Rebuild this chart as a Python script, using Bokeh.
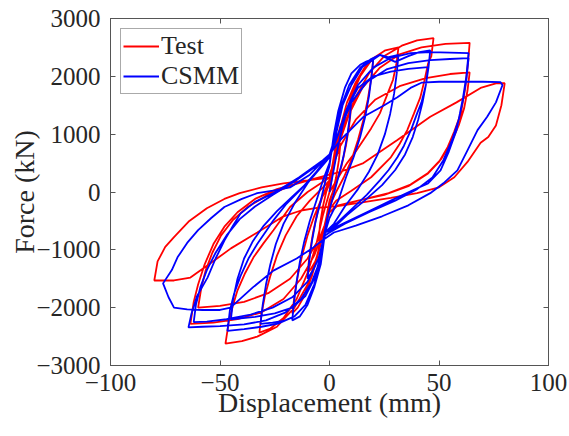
from bokeh.plotting import figure
from bokeh.models import LinearAxis, FixedTicker, Legend, LegendItem, Range1d
from bokeh.embed import file_html
from bokeh.resources import INLINE

# ---------------- data ----------------
x_ticks = [-100, -50, 0, 50, 100]
y_ticks = [-3000, -2000, -1000, 0, 1000, 2000, 3000]

# Test (red) hysteresis: displacement (mm) / force (kN), cycle by cycle
test_disp = [
    # ~5 mm
    0, 1.5, 3, 5, 4.3, 3, 1.5, 0, -1.5, -3, -5, -4.3, -3, -1.5, 0,
    # ~10 mm
    1.5, 3, 5, 7.5, 10, 9, 7.5, 5.5, 3, 0, -2, -4, -6.5, -8.5, -10, -9, -7.5, -5.5, -3, 0,
    # ~20 mm
    2, 4.5, 8, 12, 16, 20, 19, 17.5, 15.5, 13, 10, 6.5, 3, 0, -2.5, -5, -8, -11.5, -14.5, -17,
    -16, -14.5, -12.5, -10, -7, -3.5, 0,
    # ~32 mm
    2.5, 5.5, 9.5, 14, 19.5, 25.5, 31.5, 30.5, 29, 26, 23, 19, 15.5, 12, 8, 4, 0,
    -3, -6, -10, -15, -21, -27, -32, -31, -29.5, -27, -24, -20, -15, -9, -3, 0,
    # ~47 mm
    3, 7, 12, 18, 25, 33, 40, 47.5, 46.5, 45, 43.5, 41.5, 38.5, 35.5, 32, 28, 19, 10, 3, 0,
    -3, -6, -10, -16, -24, -33, -40, -47.5, -46, -44, -42, -38.5, -34.7, -30, -25.6, -18, -10, 0,
    # ~64 mm
    4, 9, 15, 23, 32, 42, 53, 64, 63.3, 62, 60, 57, 54, 50, 45, 36, 25, 13, 3, 0,
    -3, -7, -13, -21, -31, -42, -53, -63.5, -62, -60, -57, -53, -48, -42, -34, -24, -12, 0,
    # repeat ~64 mm
    5, 12, 21, 32, 44, 55, 64, 63, 61.5, 59, 55.5, 51, 45, 37, 27, 15, 4, 0,
    -4, -10, -18, -28, -39, -50, -60, -58.5, -56.5, -53.5, -49.5, -44, -37, -28, -16, 0,
    # ~80 mm
    5, 15.5, 31, 46, 58, 69, 76, 80, 78.5, 76, 72.5, 69, 63, 57, 50, 40, 28, 15, 3,
    -5, -13, -21, -33, -45, -55, -63.5, -71, -80, -78.5, -75, -71, -64, -56, -48, -41, -31, -21, -10, 0,
]
test_force = [
    0, 350, 650, 850, 550, 250, 0, -200, -450, -700, -850, -550, -250, 0, 150,
    500, 850, 1150, 1350, 1500, 1150, 800, 450, 150, -150, -550, -900, -1200, -1330, -1400, -1050, -700, -350, -50, 200,
    600, 1050, 1550, 1900, 2150, 2300, 1950, 1600, 1250, 900, 550, 250, 0, -250, -650, -1050, -1450, -1800, -2000, -2100,
    -1800, -1450, -1100, -750, -420, -100, 150,
    600, 1100, 1600, 2000, 2300, 2450, 2500, 2200, 1940, 1650, 1360, 1100, 900, 700, 500, 250, 0,
    -400, -900, -1400, -1850, -2180, -2360, -2430, -2100, -1800, -1450, -1100, -750, -420, -150, 80, 200,
    700, 1200, 1650, 2050, 2350, 2530, 2620, 2660, 2350, 2220, 1950, 1640, 1350, 1070, 830, 600, 255, 20, -150, -300,
    -700, -1150, -1600, -2000, -2330, -2500, -2580, -2620, -2250, -1950, -1700, -1400, -1130, -880, -660, -260, 0, 250,
    800, 1350, 1800, 2150, 2380, 2500, 2560, 2580, 2250, 1800, 1360, 1050, 780, 520, 320, 100, -50, -150, -250, -350,
    -700, -1100, -1500, -1850, -2080, -2200, -2260, -2280, -1900, -1600, -1250, -900, -600, -350, -120, 50, 180, 300,
    800, 1250, 1600, 1830, 1970, 2040, 2070, 1750, 1450, 1150, 850, 570, 330, 130, -20, -130, -230, -350,
    -750, -1150, -1500, -1750, -1900, -1970, -2000, -1650, -1350, -1050, -750, -480, -250, -50, 130, 300,
    350, 500, 900, 1300, 1550, 1800, 1880, 1880, 1500, 1150, 950, 850, 520, 255, 80, -20, -100, -180, -250,
    -270, -320, -420, -700, -975, -1250, -1480, -1530, -1530, -1200, -950, -780, -500, -280, -120, -20, 80, 150, 200, 250,
]

# CSMM (blue) hysteresis
csmm_disp = [
    # ~10 mm
    0, 2, 4, 6, 8, 10, 9.3, 8, 6.3, 4, 1.5, -1, -3, -5, -7.5, -10, -9.3, -8, -6.3, -4, -1.5, 0,
    # ~20 mm
    2, 4, 7, 10, 14, 17, 20, 19.2, 18, 16.3, 14, 11, 7.5, 4, 0, -2,
    -4, -7, -10, -13.5, -17, -16.2, -15, -13.5, -11.5, -9, -6, -3, 0,
    # ~32 mm
    2.5, 5, 9, 14, 19, 23, 27, 31.5, 30.7, 29.5, 27.7, 25.3, 22, 18, 13, 7, 2, -2,
    -4, -7, -11, -16, -21, -26, -31.5, -30.5, -29, -27, -24.5, -21, -16, -10, -4, 0,
    # ~46 mm
    3, 6, 10, 15, 23, 30, 36, 41, 46, 45.2, 44, 42, 40, 37.5, 34, 31, 27, 23, 17, 10, 3, -2,
    -4, -7, -11, -16, -23, -31, -39, -46.6, -45.5, -43.5, -40.6, -37, -33, -29, -25.6, -20, -13, -6, 0,
    # repeat ~45 mm
    4, 8, 13, 20, 28, 36, 45, 44, 42.5, 40.5, 38, 34.5, 30, 24, 16, 8, 1, -2,
    -4, -7, -11, -17, -25, -34, -45, -44, -42, -39, -35, -30, -24, -17, -9, 0,
    # ~64 mm
    4, 8, 13, 20, 28, 37, 46, 55, 63.5, 62.5, 61, 59.5, 58, 54.5, 50.7, 45, 38, 28, 17, 6, -2,
    -4, -8, -13, -20, -29, -39, -50, -58, -64.4, -63, -60.5, -55.7, -52, -48, -44, -40.6, -34, -25.6, -14, -3, 0,
    # repeat ~64 mm
    5, 10, 17, 26, 36, 46, 55, 63.5, 62.5, 61, 59, 56, 52, 47, 40, 30, 18, 7, 0,
    -2, -5, -10, -17, -26, -36, -47, -56, -62, -61, -59, -56, -52, -47, -41, -34, -26, -16, -6, 0,
    # ~79 mm
    5, 15.5, 25, 31, 37, 42, 50, 60, 70, 78, 79, 76, 72, 67.6, 63, 58.4, 52, 46, 36, 24, 12, 2,
    -3, -7.3, -15, -25.6, -35, -45.2, -50, -58, -65, -71, -73.5, -76,
    -72, -69.4, -65, -60, -54, -48, -40, -33, -25, -18, -9, 0,
]
csmm_force = [
    0, 400, 800, 1150, 1400, 1600, 1300, 950, 600, 250, -100, -450, -850, -1150, -1350, -1500, -1200, -850, -500, -150, 250, 450,
    1000, 1400, 1800, 2050, 2200, 2260, 2300, 2000, 1650, 1300, 950, 600, 250, -150, -450, -700,
    -1250, -1650, -1950, -2150, -2220, -1900, -1550, -1200, -850, -500, -150, 200, 500,
    1000, 1450, 1850, 2150, 2300, 2370, 2330, 2370, 2050, 1700, 1350, 1000, 650, 350, 50, -250, -550, -700,
    -1200, -1600, -1950, -2150, -2230, -2260, -2280, -1950, -1600, -1250, -900, -550, -200, 150, 450, 650,
    1000, 1500, 1850, 2160, 2370, 2250, 2350, 2420, 2450, 2150, 1850, 1550, 1360, 1100, 800, 600, 380, 200, -50, -300, -550, -700,
    -1200, -1650, -1950, -2150, -2270, -2330, -2370, -2400, -2050, -1750, -1450, -1150, -900, -680, -490, -220, 50, 350, 650,
    1000, 1450, 1800, 2000, 2080, 2130, 2160, 1850, 1550, 1250, 950, 650, 380, 120, -150, -400, -650, -700,
    -1100, -1500, -1800, -2000, -2100, -2160, -2200, -1850, -1500, -1150, -850, -580, -330, -80, 200, 600,
    1000, 1450, 1850, 2150, 2320, 2400, 2420, 2410, 2400, 2000, 1640, 1350, 1070, 700, 375, 150, 30, -150, -350, -550, -700,
    -1150, -1550, -1850, -2080, -2220, -2290, -2320, -2330, -2340, -2100, -1800, -1480, -1150, -840, -580, -370, -170, -20, 250, 550, 650,
    1100, 1550, 1900, 2120, 2230, 2280, 2300, 2315, 1950, 1600, 1250, 900, 550, 250, 50, -150, -350, -550, -700,
    -750, -1150, -1550, -1820, -2000, -2120, -2200, -2240, -2250, -1950, -1650, -1350, -1050, -750, -470, -250, -50, 180, 450, 650,
    900, 1300, 1500, 1640, 1800, 1890, 1906, 1906, 1906, 1900, 1850, 1550, 1300, 1070, 720, 375, 150, -20, -230, -420, -580, -700,
    -830, -958, -1150, -1360, -1650, -2000, -2040, -2040, -2030, -2000, -1820, -1580,
    -1350, -1130, -880, -660, -450, -260, -120, -20, 30, 80, 300, 650,
]

# ---------------- figure ----------------
FONT = "Liberation Serif"
TXT = "#262626"
AX = "#555555"

p = figure(width=569, height=435, output_backend="svg", toolbar_location=None,
           x_range=Range1d(-100, 100), y_range=Range1d(-3000, 3000),
           min_border_left=110, min_border_right=21, min_border_top=18, min_border_bottom=70,
           x_axis_label="Displacement (mm)", y_axis_label="Force (kN)")
p.background_fill_color = "white"
p.border_fill_color = "white"
p.xgrid.visible = False
p.ygrid.visible = False
p.outline_line_color = AX
p.outline_line_width = 1

r_test = p.line(test_disp, test_force, line_color="#ff0000", line_width=1.8)
r_csmm = p.line(csmm_disp, csmm_force, line_color="#0000ff", line_width=1.8)

for ax, ticks in ((p.xaxis[0], x_ticks), (p.yaxis[0], y_ticks)):
    ax.ticker = FixedTicker(ticks=ticks)
    ax.minor_tick_line_color = None
    ax.major_tick_in = 5
    ax.major_tick_out = 0
    ax.major_tick_line_color = AX
    ax.axis_line_color = AX
    ax.major_label_text_font = FONT
    ax.major_label_text_font_size = "25px"
    ax.major_label_text_color = TXT
    ax.axis_label_text_font = FONT
    ax.axis_label_text_font_size = "28px"
    ax.axis_label_text_font_style = "normal"
    ax.axis_label_text_color = TXT

p.xaxis[0].major_label_standoff = 8
p.xaxis[0].axis_label_standoff = -7
p.yaxis[0].major_label_standoff = 10
p.yaxis[0].axis_label_standoff = -7

top = LinearAxis(ticker=FixedTicker(ticks=x_ticks), major_label_text_font_size="1px",
                 major_label_text_color=None, major_label_standoff=0,
                 major_tick_in=5, major_tick_out=0, minor_tick_line_color=None,
                 axis_line_color=AX, major_tick_line_color=AX)
right = LinearAxis(ticker=FixedTicker(ticks=y_ticks), major_label_text_font_size="1px",
                   major_label_text_color=None, major_label_standoff=0,
                   major_tick_in=5, major_tick_out=0, minor_tick_line_color=None,
                   axis_line_color=AX, major_tick_line_color=AX)
p.add_layout(top, "above")
p.add_layout(right, "right")

legend = Legend(items=[LegendItem(label="Test", renderers=[r_test]),
                       LegendItem(label="CSMM", renderers=[r_csmm])],
                location=(10, 271))
legend.label_text_font = FONT
legend.label_text_font_size = "26px"
legend.label_text_color = TXT
legend.glyph_width = 36
legend.glyph_height = 28
legend.label_height = 28
legend.label_standoff = 2
legend.padding = 2
legend.spacing = 0
legend.margin = 0
legend.border_line_color = AX
legend.border_line_width = 1
legend.background_fill_alpha = 1
p.add_layout(legend, "center")

open("out.html", "w").write(file_html(p, INLINE))
